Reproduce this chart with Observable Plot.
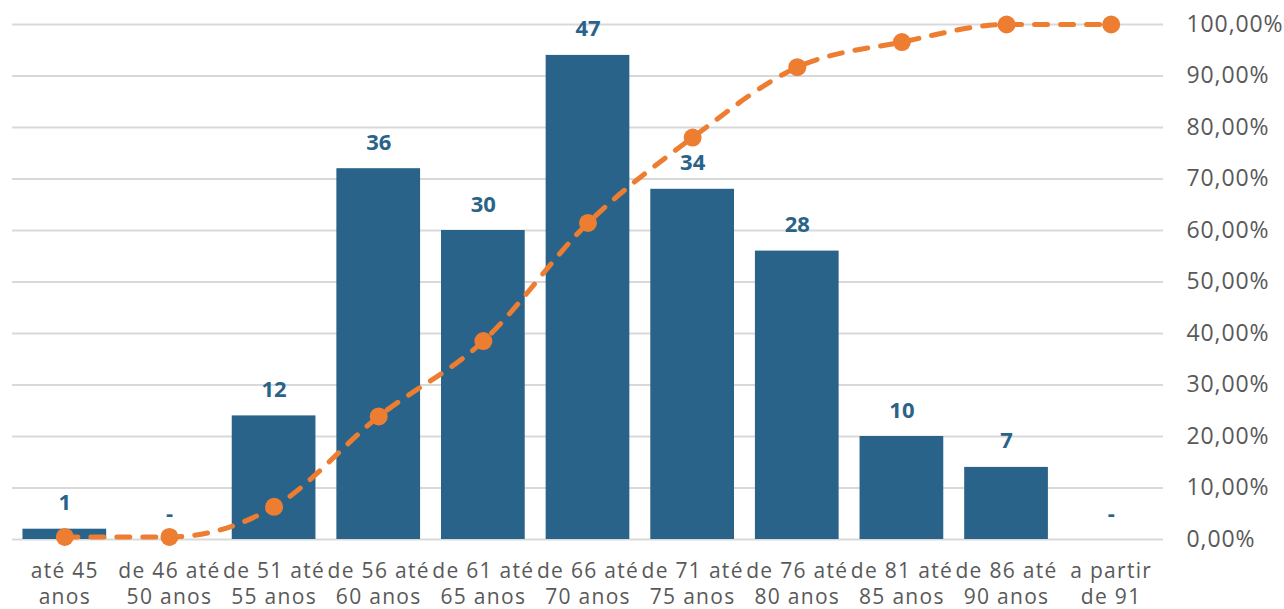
<!DOCTYPE html>
<html>
<head>
<meta charset="utf-8">
<script src="https://cdn.jsdelivr.net/npm/d3@7"></script>
<script src="https://cdn.jsdelivr.net/npm/@observablehq/plot@0.6"></script>
<style>
  html, body { margin: 0; padding: 0; background: #ffffff; }
  #chart { width: 1284px; height: 609px; overflow: hidden; }
</style>
</head>
<body>
<div id="chart"></div>
<script>
const categories = [
  "até 45\nanos", "de 46 até\n50 anos", "de 51 até\n55 anos", "de 56 até\n60 anos",
  "de 61 até\n65 anos", "de 66 até\n70 anos", "de 71 até\n75 anos", "de 76 até\n80 anos",
  "de 81 até\n85 anos", "de 86 até\n90 anos", "a partir\nde 91"
];
const counts = [1, 0, 12, 36, 30, 47, 34, 28, 10, 7, 0];
const countLabels = ["1", "-", "12", "36", "30", "47", "34", "28", "10", "7", "-"];
const cumulative = [0.0049, 0.0049, 0.0634, 0.2390, 0.3854, 0.6146, 0.7805, 0.9171, 0.9659, 1.0, 1.0];
const pctTicks = [0, 0.1, 0.2, 0.3, 0.4, 0.5, 0.6, 0.7, 0.8, 0.9, 1.0];
const barMax = 50; // hidden primary axis maximum

const data = categories.map((c, i) => ({
  cat: c, count: counts[i], label: countLabels[i], cum: cumulative[i]
}));

const barColor = "#2a6389";
const lineColor = "#ed7d31";
const textGray = "#595959";

const chart = Plot.plot({
  width: 1284,
  height: 609,
  marginTop: 24,
  marginBottom: 70,
  marginLeft: 12,
  marginRight: 121,
  style: { fontFamily: "'Open Sans', 'Noto Sans', sans-serif", background: "#ffffff" },
  x: { domain: categories, paddingInner: 0.2, paddingOuter: 0.1, round: false, label: null, axis: null },
  y: { domain: [0, 1], label: null, axis: null },
  marks: [
    Plot.gridY(pctTicks, { stroke: "#d9d9d9", strokeOpacity: 1, strokeWidth: 2 }),
    Plot.barY(data, { x: "cat", y: d => d.count / barMax, fill: barColor }),
    Plot.text(data, {
      x: "cat", y: d => d.count / barMax, text: "label", dy: -26,
      fontWeight: "bold", fontSize: 22, fill: barColor, ariaLabel: "bar-labels"
    }),
    Plot.line(data, {
      x: "cat", y: "cum", stroke: lineColor, strokeWidth: 5,
      strokeDasharray: "13,13", strokeLinecap: "round", curve: "monotone-x"
    }),
    Plot.dot(data, { x: "cat", y: "cum", r: 9, fill: lineColor }),
    Plot.axisY(pctTicks, {
      anchor: "right", tickSize: 0, tickPadding: 23, label: null,
      tickFormat: d => (d * 100).toFixed(2).replace(".", ",") + "%",
      fontSize: 23, fill: textGray
    }),
    Plot.axisX({
      tickSize: 0, tickPadding: 19, label: null,
      fontSize: 21, lineHeight: 1.28, fill: textGray
    })
  ]
});
const svg = d3.select(chart);
svg.selectAll('g[aria-label="y-axis tick label"]').attr("letter-spacing", "0.9px");
svg.selectAll('g[aria-label="x-axis tick label"]').attr("letter-spacing", "1.3px");
svg.selectAll('g[aria-label="bar-labels"]').attr("letter-spacing", "2px");
document.getElementById("chart").appendChild(chart);
</script>
</body>
</html>
